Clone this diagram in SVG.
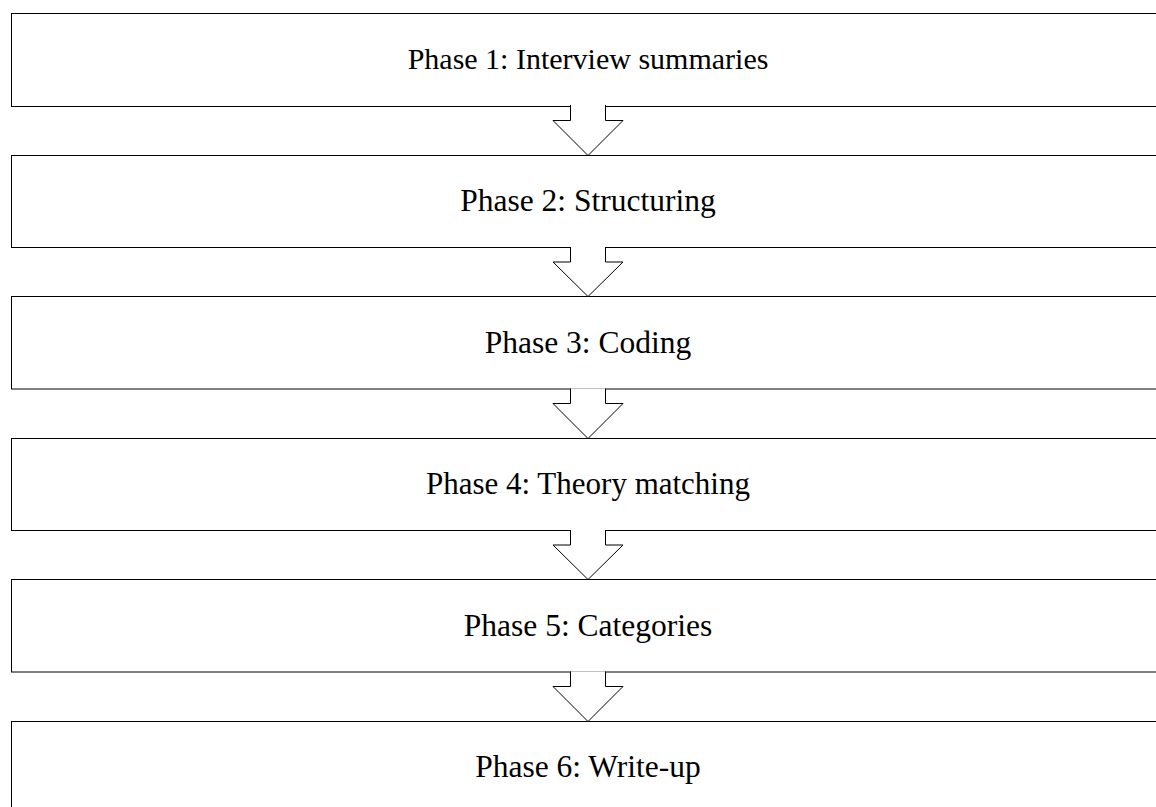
<svg xmlns="http://www.w3.org/2000/svg" width="1156" height="807" viewBox="0 0 1156 807">
  <style>
    .box { fill: #fff; stroke: #000; stroke-width: 1; }
    .label { font-family: "Liberation Serif", "Times New Roman", serif; font-size: 31.5px; fill: #000; text-anchor: middle; }
    .arrow { fill: #fff; stroke: #000; stroke-width: 1; stroke-linejoin: miter; }
  </style>
  <rect width="1156" height="807" fill="#fff"/>

  <g id="phase1">
    <rect class="box" x="11.5" y="13.5" width="1160" height="93"/>
    <text class="label" x="588" y="69" style="font-size:30px">Phase 1: Interview summaries</text>
  </g>
  <g id="phase2">
    <rect class="box" x="11.5" y="155.5" width="1160" height="92"/>
    <text class="label" x="588" y="211">Phase 2: Structuring</text>
  </g>
  <g id="phase3">
    <rect class="box" x="11.5" y="296.5" width="1160" height="92.5"/>
    <text class="label" x="588" y="352.5">Phase 3: Coding</text>
  </g>
  <g id="phase4">
    <rect class="box" x="11.5" y="438.5" width="1160" height="92"/>
    <text class="label" x="588" y="494" style="font-size:31px">Phase 4: Theory matching</text>
  </g>
  <g id="phase5">
    <rect class="box" x="11.5" y="579.5" width="1160" height="92.5"/>
    <text class="label" x="588" y="635.5">Phase 5: Categories</text>
  </g>
  <g id="phase6">
    <rect class="box" x="11.5" y="721.5" width="1160" height="100"/>
    <text class="label" x="588" y="777">Phase 6: Write-up</text>
  </g>

  <!-- block arrows between consecutive phases; the open top merges into the box above -->
  <g id="connectors">
    <path class="arrow" d="M570.5,105 V120.5 H553 L588,155.5 L623,120.5 H605.5 V105"/>
    <path class="arrow" d="M570.5,247 V262 H553 L588,296.5 L623,262 H605.5 V247"/>
    <path class="arrow" d="M570.5,388.5 V403.5 H553 L588,438.5 L623,403.5 H605.5 V388.5"/>
    <path class="arrow" d="M570.5,530 V545 H553 L588,579.5 L623,545 H605.5 V530"/>
    <path class="arrow" d="M570.5,671.5 V686.5 H553 L588,721.5 L623,686.5 H605.5 V671.5"/>
  </g>
</svg>
